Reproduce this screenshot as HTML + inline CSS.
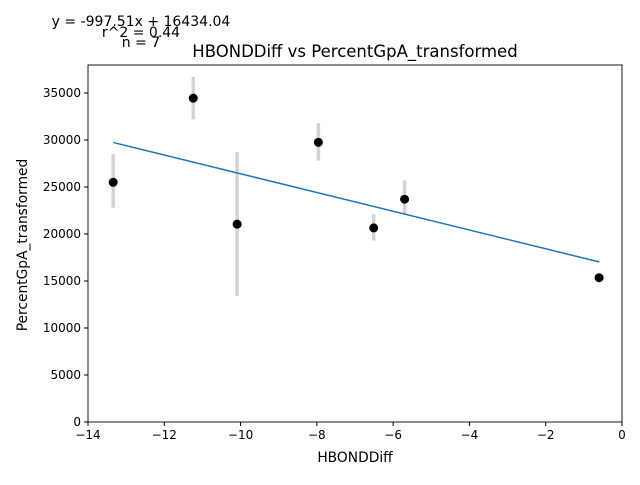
<!DOCTYPE html>
<html><head><meta charset="utf-8"><style>
body{margin:0;background:#fff;}
svg text{font-family:"DejaVu Sans","Liberation Sans",sans-serif;}
</style></head><body>
<svg id="chart" width="640" height="480" xmlns="http://www.w3.org/2000/svg">
<rect width="640" height="480" fill="#fff"/>
<text x="141" y="26" font-size="14" text-anchor="middle">y = -997.51x + 16434.04</text>
<text x="141" y="37" font-size="14" text-anchor="middle">r^2 = 0.44</text>
<text x="141" y="47" font-size="14" text-anchor="middle">n = 7</text>
<text x="355" y="57" font-size="16.5" text-anchor="middle">HBONDDiff vs PercentGpA_transformed</text>
<text x="355" y="462" font-size="13.8" text-anchor="middle">HBONDDiff</text>
<text transform="translate(27,245) rotate(-90)" font-size="13.8" text-anchor="middle">PercentGpA_transformed</text>
<g id="marks"></g>
<rect x="88" y="65" width="534" height="357" fill="none" stroke="#000" stroke-width="0.9"/>
</svg>
<script>
const xs=[-13.34,-11.24,-10.09,-7.96,-6.51,-5.70,-0.60];
const ys=[25500,34450,21050,29750,20650,23700,15350];
const errLo=[22800,32200,13400,27800,19300,22000,15350];
const errHi=[28500,36700,28700,31800,22100,25700,15350];
const slope=-997.51, intercept=16434.04;
const xTicks=[-14,-12,-10,-8,-6,-4,-2,0];
const yTicks=[0,5000,10000,15000,20000,25000,30000,35000];
const X0=88,X1=622,Y0=422,Y1=65,xmin=-14,xmax=0,ymin=0,ymax=37980;
const sx=v=>X0+(v-xmin)/(xmax-xmin)*(X1-X0);
const sy=v=>Y0-(v-ymin)/(ymax-ymin)*(Y0-Y1);
const NS="http://www.w3.org/2000/svg";
const g=document.getElementById('marks');
function mk(t,a){const e=document.createElementNS(NS,t);for(const k in a)e.setAttribute(k,a[k]);g.appendChild(e);return e;}
xTicks.forEach(t=>{
  const l=mk('line',{x1:sx(t),x2:sx(t),y1:Y0,y2:Y0+4,stroke:'#000'});
  
  
  const tx=mk('text',{x:sx(t),y:Y0+17,'font-size':12,'text-anchor':'middle'});tx.textContent=t<0?'\u2212'+(-t):t;
  
  
});
yTicks.forEach(t=>{
  const l=mk('line',{x1:X0-4,x2:X0,y1:sy(t),y2:sy(t),stroke:'#000'});
  
  
  const tx=mk('text',{x:X0-7,y:sy(t)+4,'font-size':12,'text-anchor':'end'});tx.textContent=t;
  
  
});
xs.forEach((x,i)=>{
  const e=mk('line',{x1:sx(x),x2:sx(x),y1:sy(errLo[i]),y2:sy(errHi[i]),stroke:'#d3d3d3','stroke-width':3.5});
  
  
});
const xa=Math.min(...xs),xb=Math.max(...xs);
const fl=mk('line',{x1:sx(xa),y1:sy(slope*xa+intercept),x2:sx(xb),y2:sy(slope*xb+intercept),stroke:'#1f77b4','stroke-width':1.5});


xs.forEach((x,i)=>{
  const c=mk('circle',{cx:sx(x),cy:sy(ys[i]),r:4.5,fill:'#000'});
  
  
});
</script>
</body></html>
